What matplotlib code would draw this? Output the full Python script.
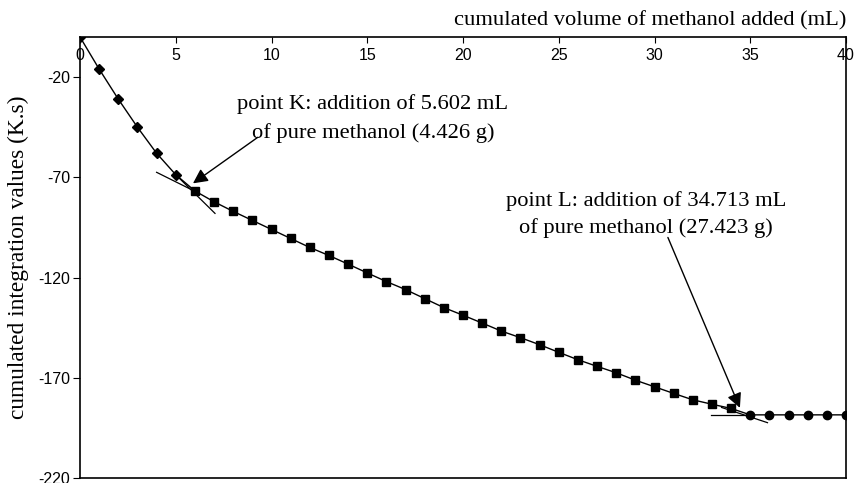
import matplotlib
matplotlib.use('Agg')
import matplotlib.pyplot as plt

# normales Minus wie im Original
plt.rcParams['axes.unicode_minus'] = False

x_raute = [0, 1, 2, 3, 4, 5]
y_raute = [0, -16, -31, -45, -58, -68.7]

x_quadrat = [6, 7, 8, 9, 10, 11, 12, 13, 14, 15, 16, 17, 18, 19, 20,
             21, 22, 23, 24, 25, 26, 27, 28, 29, 30, 31, 32, 33, 34]
y_quadrat = [-76.8, -82.2, -87, -91.5, -96, -100.5, -105, -109, -113.3, -117.7,
             -122, -126, -130.5, -135, -138.8, -142.7, -146.7, -150, -153.5, -157.3,
             -161, -164.3, -167.5, -171.2, -174.5, -177.8, -181, -183.2, -185.3]

x_kreis = [35, 36, 37, 38, 39, 40]
y_kreis = [-188.5, -188.5, -188.5, -188.5, -188.5, -188.5]

# Tangenten an den Knickpunkten K und L
tangente_K1 = ([4.0, 6.0], [-67.5, -77.0])
tangente_K2 = ([5.0, 7.05], [-68.7, -88.0])
tangente_L1 = ([32.95, 35.0], [-188.5, -188.5])
tangente_L2 = ([33.5, 35.9], [-184.8, -192.4])

x_ticks = [0, 5, 10, 15, 20, 25, 30, 35, 40]
y_ticks = [-220, -170, -120, -70, -20]

serif = 'Liberation Serif'
sans = 'Liberation Sans'

fig = plt.figure(figsize=(8.55, 4.83), dpi=100)
ax = fig.add_axes([80 / 855, 1 - 478 / 483, 766 / 855, 441 / 483])

# ganze Kurve als eine Linie
x_alle = x_raute + x_quadrat + x_kreis
y_alle = y_raute + y_quadrat + y_kreis
ax.plot(x_alle, y_alle, color='black', linewidth=1, zorder=2)
ax.plot(x_raute, y_raute, linestyle='none', marker='D', markersize=5, color='black', zorder=3)
ax.plot(x_quadrat, y_quadrat, linestyle='none', marker='s', markersize=5.5, color='black', zorder=3)
ax.plot(x_kreis, y_kreis, linestyle='none', marker='o', markersize=6, color='black', zorder=3)

for t in [tangente_K1, tangente_K2, tangente_L1, tangente_L2]:
    ax.plot(t[0], t[1], color='black', linewidth=0.9, zorder=2)

ax.set_xlim(0, 40)
ax.set_ylim(-220, 0)

# x-Achse liegt oben (bei y = 0), Beschriftung darunter
ax.spines['bottom'].set_position(('axes', 1.0))
ax.spines['top'].set_position(('axes', 0.0))
for s in ax.spines.values():
    s.set_linewidth(1.2)
ax.set_xticks(x_ticks)
ax.set_yticks(y_ticks)
ax.tick_params(axis='x', direction='out', length=4, pad=4, labelsize=11.5)
ax.tick_params(axis='y', direction='out', length=5, pad=2, labelsize=11.5)
for lab in ax.get_xticklabels() + ax.get_yticklabels():
    lab.set_family(sans)

ax.set_ylabel('cumulated integration values (K.s)', family=serif, fontsize=16.8, labelpad=7)
fig.text(846 / 855, 1 - 21 / 483, 'cumulated volume of methanol added (mL)',
         family=serif, fontsize=16.2, ha='right', va='center')

# Beschriftungen der Punkte K und L
ax.text(15.3, -40.7, 'point K: addition of 5.602 mL\nof pure methanol (4.426 g)',
        family=serif, fontsize=16.2, ha='center', va='center', linespacing=1.55)
ax.text(29.56, -88.5, 'point L: addition of 34.713 mL\nof pure methanol (27.423 g)',
        family=serif, fontsize=16.2, ha='center', va='center', linespacing=1.5)

pfeil = dict(arrowstyle='-|>', color='black', linewidth=1, mutation_scale=22, shrinkA=0, shrinkB=0)
ax.annotate('', xy=(5.9, -73), xytext=(9.29, -50), arrowprops=pfeil)
ax.annotate('', xy=(34.46, -185), xytext=(30.7, -100), arrowprops=pfeil)

fig.savefig('out.png', dpi=100)
